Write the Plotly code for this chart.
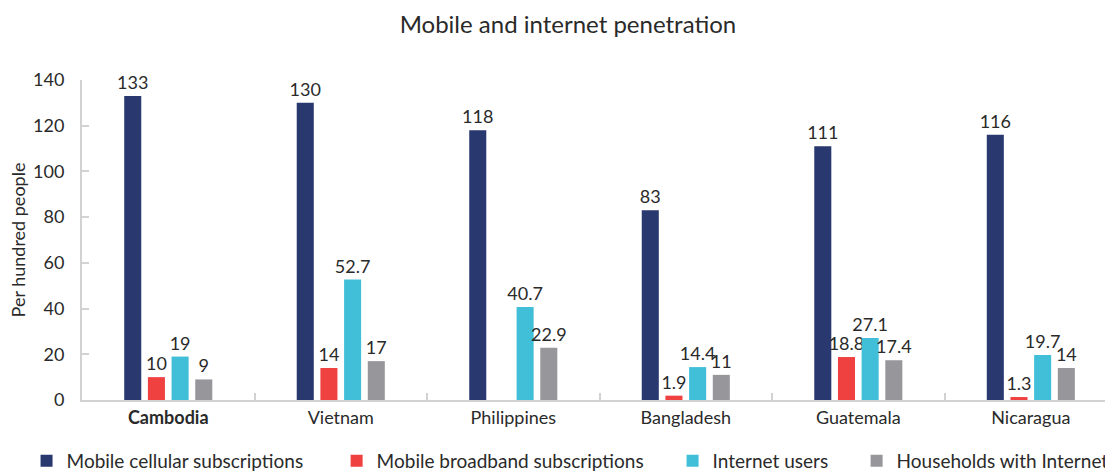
import plotly.graph_objects as go

# Per-hundred-people indicators by country
countries = ["Cambodia", "Vietnam", "Philippines", "Bangladesh", "Guatemala", "Nicaragua"]
country_labels = ["<b>Cambodia</b>", "Vietnam", "Philippines", "Bangladesh", "Guatemala", "Nicaragua"]

mobile_cellular = [133, 130, 118, 83, 111, 116]
mobile_broadband = [10, 14, None, 1.9, 18.8, 1.3]
internet_users = [19, 52.7, 40.7, 14.4, 27.1, 19.7]
households_internet = [9, 17, 22.9, 11, 17.4, 14]

y_ticks = [0, 20, 40, 60, 80, 100, 120, 140]

series = [
    ("Mobile cellular subscriptions", mobile_cellular, "#29386F"),
    ("Mobile broadband subscriptions", mobile_broadband, "#EF4140"),
    ("Internet users", internet_users, "#41BFD8"),
    ("Households with Internet", households_internet, "#97979B"),
]

# one single-entry legend per series, laid out along the bottom edge
legend_ids = ["legend", "legend2", "legend3", "legend4"]
legend_x = [-0.0542, 0.2489, 0.5773, 0.7572]

FONT = "Lato, 'Open Sans', sans-serif"
TEXT = "#2a2a2a"
AXIS = "#d2d2d2"

fig = go.Figure()
for (name, vals, color), lid in zip(series, legend_ids):
    fig.add_trace(go.Bar(
        name=name,
        x=countries,
        y=vals,
        marker=dict(color=color, line=dict(width=0)),
        texttemplate="%{y}",
        textposition="outside",
        constraintext="none",
        cliponaxis=False,
        textfont=dict(family=FONT, size=18, color=TEXT),
        legend=lid,
        showlegend=True,
    ))

legend_style = dict(
    orientation="h",
    xanchor="left",
    y=-0.131, yanchor="top",
    font=dict(family=FONT, size=19, color=TEXT),
    bgcolor="rgba(0,0,0,0)",
)
legends = {lid: dict(legend_style, x=lx) for lid, lx in zip(legend_ids, legend_x)}

fig.update_layout(
    width=1105,
    height=472,
    showlegend=True,
    barmode="group",
    bargap=0.451,
    bargroupgap=0.28,
    plot_bgcolor="white",
    paper_bgcolor="white",
    margin=dict(l=82, r=0, t=80, b=72, autoexpand=False),
    font=dict(family=FONT, size=17, color=TEXT),
    title=dict(
        text="Mobile and internet penetration",
        x=0.475, xref="paper", xanchor="center",
        y=1 - 25 / 472, yref="container", yanchor="middle",
        font=dict(family=FONT, size=24, color=TEXT),
    ),
    xaxis=dict(
        type="category",
        categoryorder="array",
        categoryarray=countries,
        tickmode="array",
        tickvals=countries,
        ticktext=country_labels,
        range=[-0.5, 5.43],
        tickson="boundaries",
        ticks="inside",
        ticklen=7,
        tickwidth=2,
        tickcolor=AXIS,
        showline=True,
        linecolor=AXIS,
        linewidth=2,
        showgrid=False,
        tickfont=dict(family=FONT, size=18, color=TEXT),
    ),
    yaxis=dict(
        range=[0, 140],
        tickmode="array",
        tickvals=y_ticks,
        ticks="inside",
        ticklen=7,
        tickwidth=2,
        tickcolor=AXIS,
        showline=True,
        linecolor=AXIS,
        linewidth=2,
        showgrid=False,
        zeroline=False,
        ticklabelstandoff=12,
        tickfont=dict(family=FONT, size=18, color=TEXT),
        title=dict(text="Per hundred people", standoff=3,
                   font=dict(family=FONT, size=18, color=TEXT)),
    ),
    **legends,
)

fig.write_html("out.html")
